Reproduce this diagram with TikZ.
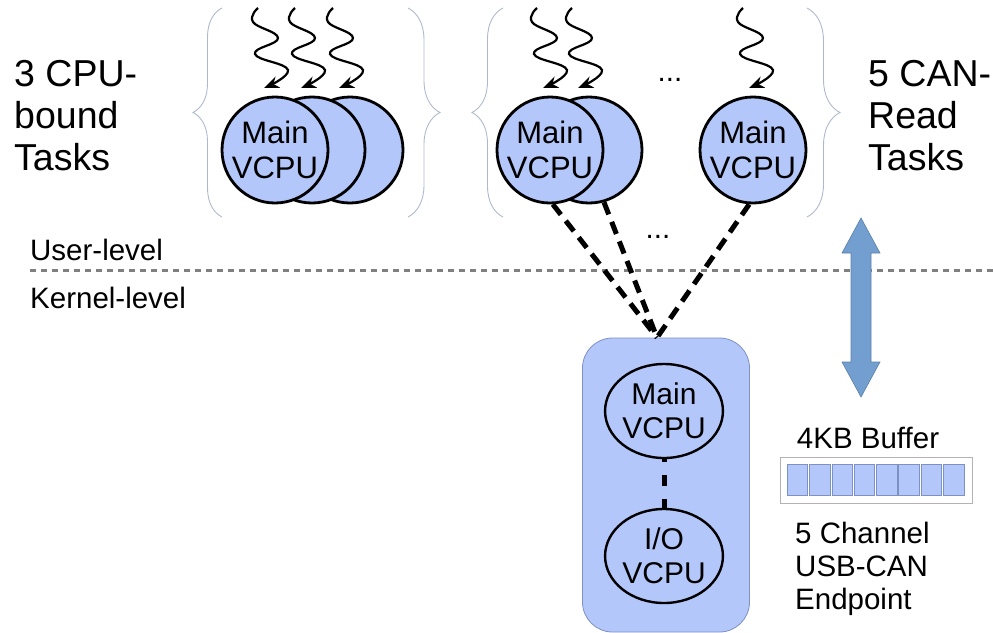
\documentclass[tikz,border=0pt]{standalone}
\usepackage{fontspec}
\setmainfont{Liberation Sans}
\usetikzlibrary{shapes,arrows,arrows.meta,positioning,calc,decorations.pathreplacing}
\definecolor{VcpuBlue}{RGB}{180,199,250}
\definecolor{ArrowBlue}{RGB}{114,159,207}
\definecolor{BraceGray}{RGB}{175,185,205}
\definecolor{CellEdge}{RGB}{125,145,195}

\begin{document}
\begin{tikzpicture}[
    x=1pt, y=-1pt,
    vcpu/.style={draw, circle, line width=2.8pt, fill=VcpuBlue, minimum size=106pt, inner sep=0pt, align=center, font=\fontsize{31}{35}\selectfont},
    kvcpu/.style={draw, ellipse, line width=2.4pt, minimum width=108pt, minimum height=94pt, inner sep=0pt, align=center, font=\fontsize{30}{34}\selectfont},
    bigtext/.style={align=left, inner sep=0pt, font=\fontsize{37.5}{42}\selectfont},
    midtext/.style={align=left, inner sep=0pt, font=\fontsize{29.5}{33}\selectfont},
    conn/.style={line width=5pt, dash pattern=on 13pt off 8pt},
    grp/.style={draw=BraceGray, line width=0.9pt, decorate, decoration={brace, amplitude=#1}},
    cell/.style={draw=CellEdge, fill=VcpuBlue, line width=0.8pt, minimum width=20.5pt, minimum height=31pt, inner sep=0pt},
  ]
    \useasboundingbox (0,0) rectangle (993,632);

    % group braces
    \draw[grp=29pt] (222,217) -- (222,8);
    \draw[grp=32pt] (408,8) -- (408,217);
    \draw[grp=31pt] (503,217) -- (503,8);
    \draw[grp=33pt] (807,8) -- (807,217);

    % task labels
    \node[bigtext, anchor=west] (cpulbl) at (14,116) {3 CPU-\\bound\\Tasks};
    \node[bigtext, anchor=west] (canlbl) at (868,116) {5 CAN-\\Read\\Tasks};

    % user-level vcpus
    \node[vcpu] (g1c) at (350,150) {};
    \node[vcpu] (g1b) at (312,150) {};
    \node[vcpu] (g1a) at (275,150) {Main\\VCPU};
    \node[vcpu] (g2b) at (589,150) {};
    \node[vcpu] (g2a) at (550,150) {Main\\VCPU};
    \node[vcpu] (g2c) at (753,150) {Main\\VCPU};
    \node[midtext] (dots1) at (670,80) {...};
    \node[midtext] (dots2) at (658,237) {...};

    % threads
    \foreach \sx in {258,295,333,537,572,743}
      \draw[line width=2.2pt, -{Stealth[length=15pt,width=12pt]}]
        plot[smooth, tension=0.75] coordinates {(\sx,8) (\sx-5,22) (\sx+20,38) (\sx-3,54) (\sx+30,70) (\sx+6,88)};

    % levels
    \draw[gray, line width=3pt, dash pattern=on 6pt off 5pt] (30,270) -- (993,270);
    \node[midtext, anchor=west] (userlbl) at (30,250) {User-level};
    \node[midtext, anchor=west] (kernlbl) at (30,298) {Kernel-level};

    % kernel side
    \node[draw=CellEdge, fill=VcpuBlue, line width=0.8pt, rounded corners=30pt, minimum width=167pt, minimum height=294pt] (kbox) at (666,485) {};
    \coordinate (hub) at ($(kbox.north)+(-9,0)$);
    \draw[conn] (g2a.-87) -- (hub);
    \draw[conn] (g2b.-74) -- (hub);
    \draw[conn] (g2c.-94) -- (hub);
    \node[kvcpu] (kmain) at (664,411) {Main\\VCPU};
    \node[kvcpu] (kio) at (664,556) {I/O\\VCPU};
    \draw[line width=5pt, dash pattern=on 11pt off 13pt, dash phase=8pt] (kmain.south) -- (kio.north);

    % buffer
    \draw[draw=ArrowBlue!80!black, line width=0.6pt, fill=ArrowBlue]
      (861,218) -- (880,253) -- (871,253) -- (871,362) -- (880,362) -- (861,397)
      -- (842,362) -- (851,362) -- (851,253) -- (842,253) -- cycle;
    \node[draw=gray!60, fill=white, line width=0.8pt, minimum width=192pt, minimum height=46pt, inner sep=0pt] (buf) at (876,480) {};
    \foreach \i in {0,...,7}
      \node[cell] (cell\i) at ($(buf.west)+(18+\i*22.3,0)$) {};
    \node[midtext, above=8pt of buf, xshift=-8pt] (buflbl) {4KB Buffer};
    \node[midtext, anchor=north west] (eplbl) at (795,522) {5 Channel\\USB-CAN\\Endpoint};
  \end{tikzpicture}
\end{document}
